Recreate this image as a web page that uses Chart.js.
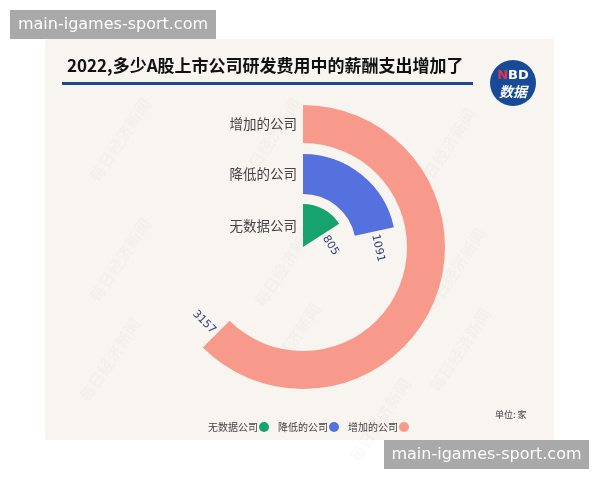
<!DOCTYPE html>
<html><head><meta charset="utf-8">
<script src="https://cdn.jsdelivr.net/npm/chart.js@4"></script>
<style>html,body{margin:0;padding:0;background:#fff;}canvas{display:block}</style>
</head>
<body>
<canvas id="c" width="600" height="480"></canvas>
<script>
const categories = ['增加的公司', '降低的公司', '无数据公司'];
const values = [3157, 1091, 805];
const colors = ['#F89A8B', '#5571DD', '#16A36E'];
const legendOrder = ['无数据公司', '降低的公司', '增加的公司'];
const titleText = '2022,多少A股上市公司研发费用中的薪酬支出增加了';
const unitText = '单位: 家';
const siteText = 'main-igames-sport.com';

const total = values.reduce((a, b) => a + b, 0);
const CJK = '"Noto Sans CJK SC", "Noto Sans", sans-serif';

const datasets = [];
categories.forEach((cat, i) => {
  if (i > 0) datasets.push({ label: '_gap' + i, data: [total], backgroundColor: ['rgba(0,0,0,0)'], weight: i === 1 ? 11 : 10, borderWidth: 0 });
  datasets.push({ label: cat, data: [values[i], total - values[i]], backgroundColor: [colors[i], 'rgba(0,0,0,0)'], weight: [38, 40, 43][i], borderWidth: 0 });
});

const decor = {
  id: 'decor',
  beforeDraw(chart) {
    const ctx = chart.ctx;
    ctx.save();
    ctx.fillStyle = '#f8f5f0';
    ctx.fillRect(45, 39, 509, 401);
    // faint watermarks
    ctx.fillStyle = 'rgba(120,120,120,0.035)';
    ctx.font = 'bold 16px ' + CJK;
    [[270, 140], [445, 150], [285, 265], [455, 270], [290, 345], [460, 350], [120, 140], [120, 260], [110, 360], [380, 420]].forEach(p => {
      ctx.save(); ctx.translate(p[0], p[1]); ctx.rotate(-Math.PI / 3.2);
      ctx.textAlign = 'center'; ctx.textBaseline = 'middle';
      ctx.fillText('每日经济新闻', 0, 0); ctx.restore();
    });
    // title
    ctx.fillStyle = '#111';
    ctx.font = 'bold 17px ' + CJK;
    ctx.textAlign = 'left'; ctx.textBaseline = 'middle';
    ctx.fillText(titleText, 67, 66);
    ctx.fillStyle = '#1c4a8a';
    ctx.fillRect(62, 82, 411, 3);
    // logo
    ctx.beginPath(); ctx.arc(513, 83, 23, 0, Math.PI * 2); ctx.fillStyle = '#174a97'; ctx.fill();
    ctx.font = 'bold 13px "DejaVu Sans", sans-serif';
    ctx.textAlign = 'left';
    const nW = ctx.measureText('N').width, bdW = ctx.measureText('BD').width;
    const sx = 513 - (nW + bdW) / 2;
    ctx.fillStyle = '#e8334a'; ctx.fillText('N', sx, 76);
    ctx.fillStyle = '#fff'; ctx.fillText('BD', sx + nW, 76);
    ctx.font = 'bold italic 14px ' + CJK;
    ctx.textAlign = 'center';
    ctx.fillText('数据', 513, 92);
    ctx.restore();
  },
  afterDraw(chart) {
    const ctx = chart.ctx;
    ctx.save();
    chart.data.datasets.forEach((ds, di) => {
      const ci = categories.indexOf(ds.label);
      if (ci < 0) return;
      const arc = chart.getDatasetMeta(di).data[0];
      const { x, y, endAngle, innerRadius, outerRadius } = arc.getProps(['x', 'y', 'endAngle', 'innerRadius', 'outerRadius'], true);
      const mid = (innerRadius + outerRadius) / 2;
      // category label
      ctx.fillStyle = '#444';
      ctx.font = '13.5px ' + CJK;
      ctx.textAlign = 'right'; ctx.textBaseline = 'middle';
      ctx.fillText(ds.label, x - 6, y - mid);
      // value label
      const r = Math.max(mid, 24);
      const px = x + r * Math.cos(endAngle), py = y + r * Math.sin(endAngle);
      let rot = endAngle + Math.PI / 2;
      let norm = ((rot % (2 * Math.PI)) + 2 * Math.PI) % (2 * Math.PI);
      ctx.save();
      ctx.translate(px, py);
      ctx.fillStyle = '#2b3c78';
      ctx.font = '11px "DejaVu Sans", sans-serif';
      ctx.textBaseline = 'middle';
      if (norm > Math.PI / 2 && norm < Math.PI * 1.5) {
        ctx.rotate(rot - Math.PI);
        ctx.textAlign = 'right';
        ctx.fillText(String(ds.data[0]), -3, 0);
      } else {
        ctx.rotate(rot);
        ctx.textAlign = 'left';
        ctx.fillText(String(ds.data[0]), 3, 0);
      }
      ctx.restore();
    });
    // legend
    ctx.font = '10px ' + CJK;
    ctx.textBaseline = 'middle'; ctx.textAlign = 'left';
    let lx = 208;
    legendOrder.forEach(name => {
      const c = colors[categories.indexOf(name)];
      ctx.fillStyle = '#444';
      ctx.fillText(name, lx, 427);
      const w = ctx.measureText(name).width;
      ctx.beginPath(); ctx.arc(lx + w + 6, 427, 5, 0, Math.PI * 2); ctx.fillStyle = c; ctx.fill();
      lx += w + 20;
    });
    ctx.fillStyle = '#444';
    ctx.font = '9px ' + CJK;
    ctx.fillText(unitText, 495, 415);
    // site boxes
    ctx.fillStyle = '#a9a9a9';
    ctx.fillRect(10, 10, 206, 29);
    ctx.fillRect(384, 440, 205, 29);
    ctx.fillStyle = '#fff';
    ctx.font = '16px "DejaVu Sans", sans-serif';
    ctx.textAlign = 'center';
    ctx.fillText(siteText, 113, 25);
    ctx.fillText(siteText, 486.5, 455);
    ctx.restore();
  }
};

new Chart(document.getElementById('c'), {
  type: 'doughnut',
  data: { labels: ['value', 'rest'], datasets },
  options: {
    responsive: false,
    animation: false,
    events: [],
    cutout: 0,
    layout: { padding: { left: 161, top: 105, right: 155, bottom: 91 } },
    plugins: { legend: { display: false }, tooltip: { enabled: false } }
  },
  plugins: [decor]
});
</script>
</body></html>
